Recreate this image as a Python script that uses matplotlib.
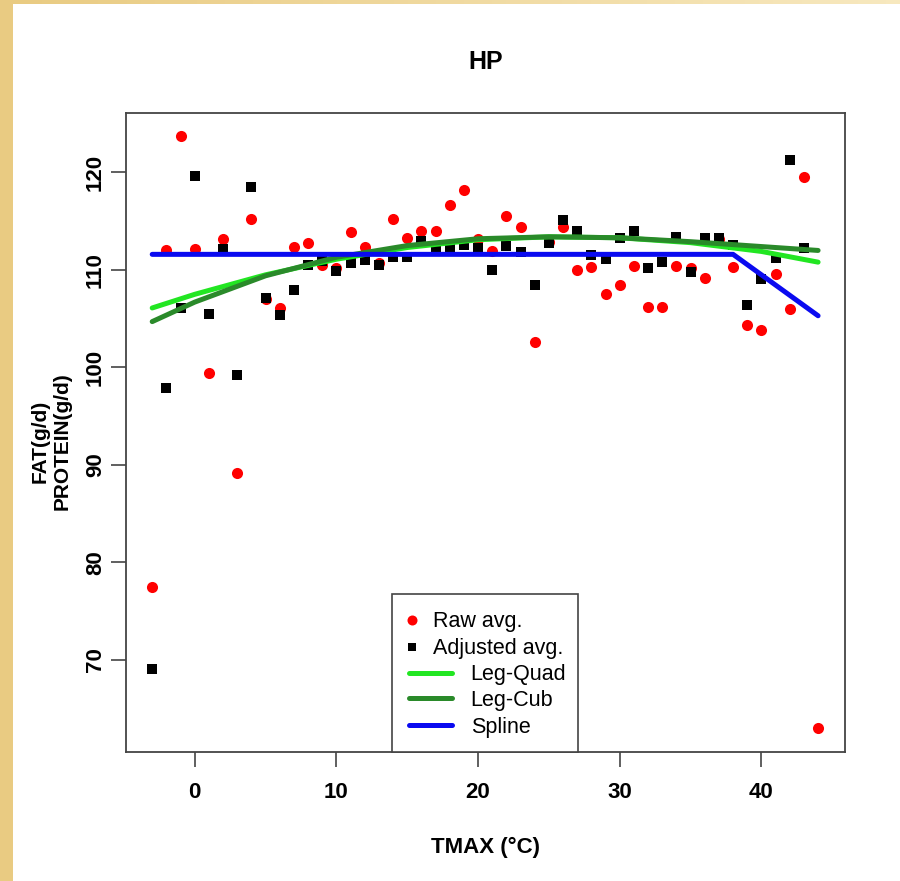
import numpy as np
import matplotlib
matplotlib.use("Agg")
import matplotlib.pyplot as plt
from matplotlib.patches import Rectangle
from matplotlib.colors import LinearSegmentedColormap

# ---- data -------------------------------------------------------------
tmax = list(range(-3, 45))

raw_avg = [77.5, 112.0, 123.7, 112.2, 99.4, 113.2, 89.2, 115.2, 107.0, 106.1,
           112.4, 112.8, 110.5, 110.2, 113.9, 112.4, 110.7, 115.2, 113.3, 114.0,
           114.0, 116.7, 118.2, 113.2, 111.9, 115.5, 114.4, 102.6, 112.9, 114.4,
           110.0, 110.3, 107.5, 108.5, 110.4, 106.2, 106.2, 110.4, 110.2, 109.2,
           113.2, 110.3, 104.4, 103.8, 109.6, 106.0, 119.5, 63.0]

adjusted_avg = [69.1, 97.9, 106.1, 119.6, 105.5, 112.2, 99.2, 118.5, 107.1, 105.4,
                107.9, 110.5, 110.9, 109.9, 110.7, 111.0, 110.5, 111.3, 111.3, 113.0,
                112.3, 112.4, 112.6, 112.3, 110.0, 112.5, 111.8, 108.5, 112.8, 115.1,
                114.0, 111.5, 111.1, 113.3, 114.0, 110.2, 110.8, 113.4, 109.8, 113.3,
                113.3, 112.6, 106.4, 109.1, 111.2, 121.3, 112.3, np.nan]

fit_tmax = [-3, 0, 5, 10, 15, 20, 25, 30, 35, 40, 44]
leg_quad = [106.1, 107.5, 109.5, 111.1, 112.3, 113.1, 113.4, 113.3, 112.8, 111.9, 110.8]
leg_cub = [104.7, 106.7, 109.4, 111.3, 112.5, 113.2, 113.4, 113.3, 112.9, 112.4, 112.0]

spline_tmax = [-3, 38, 44]
spline_vals = [111.6, 111.6, 105.3]

x_ticks = [0, 10, 20, 30, 40]
y_ticks = [70, 80, 90, 100, 110, 120]

legend_labels = ["Raw avg.", "Adjusted avg.", "Leg-Quad", "Leg-Cub", "Spline"]

# ---- styling ----------------------------------------------------------
RED = "#FF0000"
LIGHT_GREEN = "#22E622"
DARK_GREEN = "#2A8A2A"
BLUE = "#0A0AF0"
FRAME = "#444444"

plt.rcParams["font.family"] = ["Liberation Sans", "DejaVu Sans"]
TICK_FONT = ["Liberation Sans Narrow", "Liberation Sans", "DejaVu Sans"]

W, H = 900, 881
fig = plt.figure(figsize=(W / 100, H / 100), dpi=100)

# slide-style backdrop: beige edge with a white panel
bg = fig.add_axes([0, 0, 1, 1], zorder=-10)
bg.set_axis_off()
beige = LinearSegmentedColormap.from_list("beige", ["#E9CB82", "#F7E8BE"])
bg.imshow(np.linspace(0, 1, 64)[None, :], cmap=beige, aspect="auto",
          extent=[0, 1, 0, 1], transform=bg.transAxes)
fig.patches.append(Rectangle((13 / W, 0), 1 - 13 / W, 1 - 4 / H,
                             transform=fig.transFigure, facecolor="white",
                             edgecolor="none", zorder=-5))

ax = fig.add_axes([126 / W, 1 - 752 / H, 719 / W, 639 / H])
ax.set_facecolor("white")

ax.scatter(tmax, raw_avg, s=64, marker="o", color=RED, linewidths=0, zorder=2)
ax.scatter(tmax, adjusted_avg, s=52, marker="s", color="black", linewidths=0, zorder=3)
ax.plot(fit_tmax, leg_quad, color=LIGHT_GREEN, lw=3.6, solid_capstyle="round", zorder=4)
ax.plot(fit_tmax, leg_cub, color=DARK_GREEN, lw=3.6, solid_capstyle="round", zorder=5)
ax.plot(spline_tmax, spline_vals, color=BLUE, lw=3.6, solid_capstyle="round", zorder=6)

ax.set_xlim(-4.85, 45.9)
ax.set_ylim(60.55, 126.1)
ax.set_xticks(x_ticks)
ax.set_yticks(y_ticks)
ax.tick_params(direction="out", length=10.5, width=1.2, color=FRAME,
               labelsize=16)
ax.tick_params(axis="x", pad=11)
ax.tick_params(axis="y", labelrotation=90, pad=4)
for lbl in ax.get_xticklabels() + ax.get_yticklabels():
    lbl.set_fontfamily(TICK_FONT)
    lbl.set_fontweight("bold")
for lbl in ax.get_yticklabels():
    lbl.set_va("center")
for sp in ax.spines.values():
    sp.set_color(FRAME)
    sp.set_linewidth(1.3)

ax.set_title("HP", fontsize=18, fontweight="bold", pad=32)
ax.set_xlabel("TMAX (°C)", fontsize=16, fontweight="bold")
ax.xaxis.set_label_coords(0.5, (752 - 847) / 639)
ax.xaxis.label.set_va("center")
ax.set_ylabel("FAT(g/d)\nPROTEIN(g/d)", fontsize=15, fontweight="bold",
              linespacing=1.15)
ax.yaxis.set_label_coords((51 - 126) / 719, (752 - 441) / 639)
ax.yaxis.label.set_va("center")

# legend box drawn in axes coordinates
def ax_x(px):
    return (px - 126) / 719

def ax_y(py):
    return (752 - py) / 639

ax.add_patch(Rectangle((ax_x(392), 0), ax_x(578) - ax_x(392), ax_y(593.5),
                       transform=ax.transAxes, facecolor="white",
                       edgecolor=FRAME, lw=1.2, zorder=7, clip_on=False))
rows = [620, 646.7, 672.7, 698.3, 725]
ax.scatter([ax_x(411.7)], [ax_y(rows[0])], s=52, marker="o", color=RED,
           linewidths=0, transform=ax.transAxes, zorder=8, clip_on=False)
ax.scatter([ax_x(411.7)], [ax_y(rows[1])], s=36, marker="s", color="black",
           linewidths=0, transform=ax.transAxes, zorder=8, clip_on=False)
for row, col in zip(rows[2:], [LIGHT_GREEN, DARK_GREEN, BLUE]):
    ax.plot([ax_x(408.5), ax_x(451.5)], [ax_y(row), ax_y(row)], color=col,
            lw=3.6, solid_capstyle="round", transform=ax.transAxes, zorder=8,
            clip_on=False)
text_x = [433.3, 433.3, 470.7, 470.7, 470.7]
for row, tx, lab in zip(rows, text_x, legend_labels):
    ax.text(ax_x(tx), ax_y(row + 7.5), lab, transform=ax.transAxes,
            fontsize=15.5, va="baseline", ha="left", zorder=9)

fig.savefig("out.png", dpi=100)
